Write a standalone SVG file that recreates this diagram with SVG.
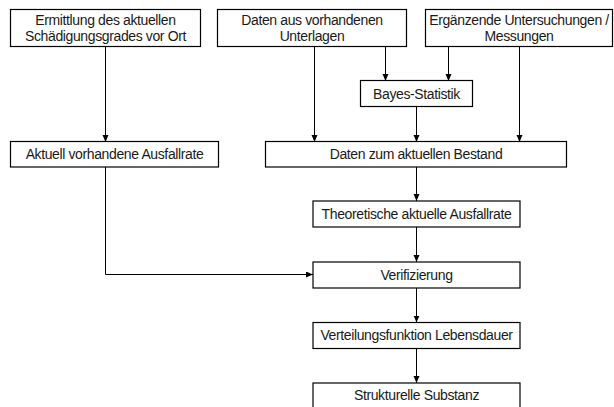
<svg xmlns="http://www.w3.org/2000/svg" width="614" height="407" viewBox="0 0 614 407">
<style>
.box{fill:#fff;stroke:#000;stroke-width:1.2}
.t{font-family:"Liberation Sans",Arial,sans-serif;font-size:14px;letter-spacing:-0.38px;fill:#1a1a1a;text-anchor:middle}
.c{fill:none;stroke:#000;stroke-width:1;marker-end:url(#ah)}
</style>
<defs>
<marker id="ah" markerUnits="userSpaceOnUse" markerWidth="8" markerHeight="7" refX="7" refY="3" orient="auto">
<path d="M0,0 L7,3 L0,6 z" fill="#000"/>
</marker>
</defs>
<rect width="614" height="407" fill="#fff"/>
<g id="connectors">
<path class="c" d="M105.5,46 V142"/>
<path class="c" d="M314.5,46 V142"/>
<path class="c" d="M385.5,46 V81"/>
<path class="c" d="M448.5,46 V81"/>
<path class="c" d="M519.5,46 V142"/>
<path class="c" d="M416.5,106 V142"/>
<path class="c" d="M416.5,167 V201"/>
<path class="c" d="M416.5,227 V262"/>
<path class="c" d="M105.5,167 V274.5 H313"/>
<path class="c" d="M416.5,288 V322.5"/>
<path class="c" d="M416.5,348.5 V383"/>
</g>
<g id="ermittlung">
<rect class="box" x="10.5" y="9.5" width="190" height="37"/>
<text class="t" x="105.5" y="24.5">Ermittlung des aktuellen</text>
<text class="t" x="105.5" y="41">Schädigungsgrades vor Ort</text>
</g>
<g id="daten-unterlagen">
<rect class="box" x="217.5" y="9.5" width="189" height="37"/>
<text class="t" x="312" y="24.5">Daten aus vorhandenen</text>
<text class="t" x="312" y="41">Unterlagen</text>
</g>
<g id="ergaenzende">
<rect class="box" x="425.5" y="9.5" width="187" height="37"/>
<text class="t" x="519" y="24.5">Ergänzende Untersuchungen /</text>
<text class="t" x="519" y="41">Messungen</text>
</g>
<g id="bayes">
<rect class="box" x="360.5" y="80.5" width="112" height="26"/>
<text class="t" x="416.5" y="98.5">Bayes-Statistik</text>
</g>
<g id="aktuell">
<rect class="box" x="10.5" y="141.5" width="208" height="25.5"/>
<text class="t" x="114.5" y="159">Aktuell vorhandene Ausfallrate</text>
</g>
<g id="daten-bestand">
<rect class="box" x="265.5" y="141.5" width="301" height="25.5"/>
<text class="t" x="416" y="159">Daten zum aktuellen Bestand</text>
</g>
<g id="theoretische">
<rect class="box" x="313" y="201" width="207" height="26"/>
<text class="t" x="416.5" y="219">Theoretische aktuelle Ausfallrate</text>
</g>
<g id="verifizierung">
<rect class="box" x="313" y="262" width="207" height="26"/>
<text class="t" x="416.5" y="279.5">Verifizierung</text>
</g>
<g id="verteilung">
<rect class="box" x="313" y="322.5" width="207" height="26"/>
<text class="t" x="416.5" y="340">Verteilungsfunktion Lebensdauer</text>
</g>
<g id="strukturelle">
<rect class="box" x="313" y="383" width="207" height="30"/>
<text class="t" x="416.5" y="400">Strukturelle Substanz</text>
</g>
</svg>
